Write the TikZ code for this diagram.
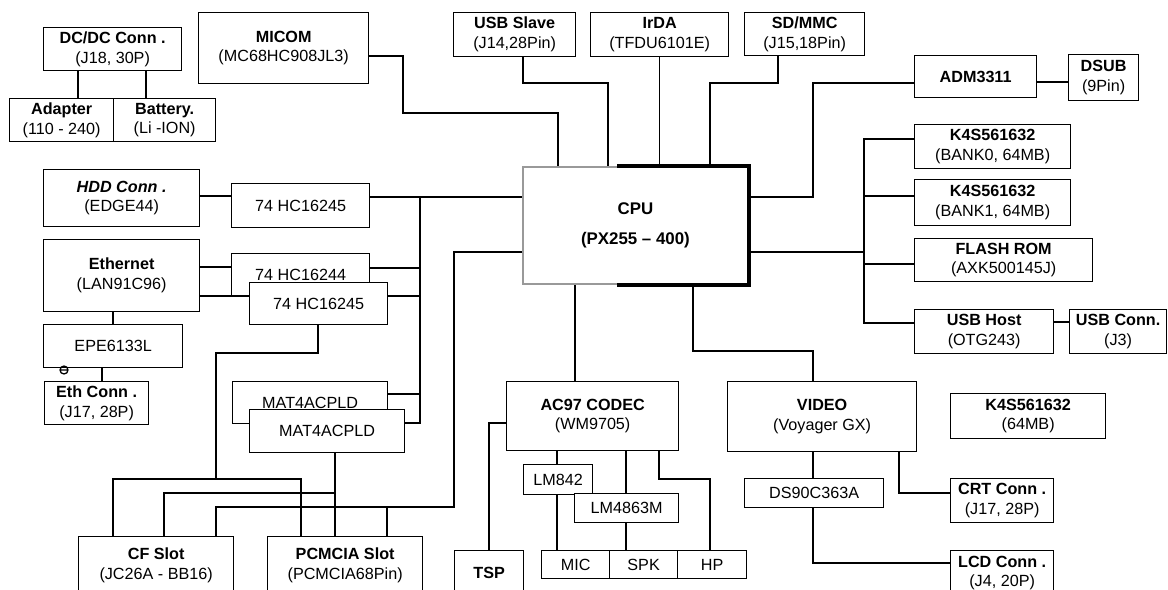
\documentclass[tikz,border=0pt]{standalone}
\usepackage{fontspec}
\setmainfont{Liberation Sans}
\tikzset{
  blk/.style 2 args={rectangle,draw,fill=white,anchor=north west,inner sep=1pt,
    minimum width=#1*0.025cm,minimum height=#2*0.025cm,align=center,
    font=\fontsize{11.5}{14}\selectfont},
  wire/.style={line width=0.9pt,color=black}
}
\begin{document}
\begin{tikzpicture}[x=0.025cm,y=-0.025cm,line width=0.9pt]
  \useasboundingbox (0,0) rectangle (1168,590);
  \clip (0,0) rectangle (1168,590);

  % power
  \node[blk={138}{43}] (dcdc) at (43,27) {\textbf{DC/DC Conn .}\\(J18, 30P)};
  \node[blk={104}{43}] (adapter) at (9,98) {\textbf{Adapter}\\(110 - 240)};
  \node[blk={102}{43}] (battery) at (113,98) {\textbf{Battery.}\\(Li -ION)};
  \node[blk={170}{71}] (micom) at (198,12) {\textbf{MICOM}\\(MC68HC908JL3)};

  % top row
  \node[blk={122}{44}] (usbslave) at (453,12) {\textbf{USB Slave}\\(J14,28Pin)};
  \node[blk={138}{44}] (irda) at (590,12) {\textbf{IrDA}\\(TFDU6101E)};
  \node[blk={120}{43}] (sdmmc) at (744,12) {\textbf{SD/MMC}\\(J15,18Pin)};

  % right side
  \node[blk={122}{42}] (adm) at (914,55) {\textbf{ADM3311}};
  \node[blk={70}{46}] (dsub) at (1068,54) {\textbf{DSUB}\\(9Pin)};
  \node[blk={156}{44}] (bank0) at (914,124) {\textbf{K4S561632}\\(BANK0, 64MB)};
  \node[blk={156}{46}] (bank1) at (914,179) {\textbf{K4S561632}\\(BANK1, 64MB)};
  \node[blk={178}{43}] (flash) at (914,238) {\textbf{FLASH ROM}\\(AXK500145J)};
  \node[blk={139}{44}] (usbhost) at (914,309) {\textbf{USB Host}\\(OTG243)};
  \node[blk={97}{44}] (usbconn) at (1069,309) {\textbf{USB Conn.}\\(J3)};

  % cpu
  \node[blk={225}{117},draw=black!40,line width=1.3pt,
    font=\fontsize{12}{21}\selectfont\bfseries] (cpu) at (522,166) {CPU\\(PX255 -- 400)};
  \draw[line width=2.6pt] (cpu.north -| 617,0) -- (cpu.north east) -- (cpu.south east) -- (cpu.south -| 617,0);

  % left side
  \node[blk={156}{57}] (hdd) at (43,169) {\textbf{\textit{HDD Conn .}}\\(EDGE44)};
  \node[blk={138}{44}] (hcA) at (231,183) {74 HC16245};
  \node[blk={156}{72}] (eth) at (43,239) {\textbf{Ethernet}\\(LAN91C96)};
  \node[blk={138}{42}] (hcB) at (231,253) {74 HC16244};
  \node[blk={138}{42}] (hcC) at (249,282) {74 HC16245};
  \node[blk={139}{43}] (epe) at (43,324) {EPE6133L};
  \node[blk={104}{43}] (ethconn) at (44,381) {\textbf{Eth Conn .}\\(J17, 28P)};
  \node[blk={155}{42}] (cpldA) at (232,381) {MAT4ACPLD};
  \node[blk={155}{43}] (cpldB) at (249,409) {MAT4ACPLD};
  \node[blk={155}{57}] (cf) at (78,536) {\textbf{CF Slot}\\(JC26A - BB16)};
  \node[blk={155}{57}] (pcmcia) at (267,536) {\textbf{PCMCIA Slot}\\(PCMCIA68Pin)};
  \draw (64,370) circle (4) (60,370) -- (68,370);

  % audio
  \node[blk={69}{45}] (tsp) at (454,550) {\textbf{TSP}};
  \node[blk={172}{69}] (codec) at (506,381) {\textbf{AC97 CODEC}\\(WM9705)};
  \node[blk={69}{30}] (lm842) at (523,464) {LM842};
  \node[blk={104}{29}] (lm4863) at (574,493) {LM4863M};
  \node[blk={68}{28}] (mic) at (541,550) {MIC};
  \node[blk={68}{28}] (spk) at (609,550) {SPK};
  \node[blk={69}{28}] (hp) at (677,550) {HP};

  % video
  \node[blk={189}{70}] (video) at (727,381) {\textbf{VIDEO}\\(Voyager GX)};
  \node[blk={155}{45}] (sdram) at (950,393) {\textbf{K4S561632}\\(64MB)};
  \node[blk={139}{29}] (lvds) at (744,478) {DS90C363A};
  \node[blk={103}{44}] (crt) at (950,478) {\textbf{CRT Conn .}\\(J17, 28P)};
  \node[blk={103}{45}] (lcd) at (950,550) {\textbf{LCD Conn .}\\(J4, 20P)};

  % wires
  \draw[wire] (dcdc.south -| 78,0) -- (adapter.north -| 78,0);
  \draw[wire] (dcdc.south -| 146,0) -- (battery.north -| 146,0);
  \draw[wire] (micom.east |- 0,56) -| (403,113) -| (cpu.north -| 558,0);
  \draw[wire] (usbslave.south -| 523,0) |- (608,83) -- (cpu.north -| 608,0);
  \draw[wire] (irda.south) -- (cpu.north -| irda.south);
  \draw[wire] (sdmmc.south -| 778,0) |- (710,83) -- (cpu.north -| 710,0);
  \draw[wire] (cpu.east |- 0,197) -| (813,83) -- (adm.west |- 0,83);
  \draw[wire] (adm.east |- 0,82) -- (dsub.west |- 0,82);
  \draw[wire] (cpu.east |- 0,252) -- (864,252);
  \draw[wire] (bank0.west |- 0,139) -| (864,323) -- (usbhost.west |- 0,323);
  \draw[wire] (864,196) -- (bank1.west |- 0,196);
  \draw[wire] (864,264) -- (flash.west |- 0,264);
  \draw[wire] (usbhost.east |- 0,322) -- (usbconn.west |- 0,322);

  \draw[wire] (hdd.east |- 0,196) -- (hcA.west |- 0,196);
  \draw[wire] (hcA.east |- 0,197) -- (cpu.west |- 0,197);
  \draw[wire] (cpldB.east |- 0,423) -| (420,197);
  \draw[wire] (hcB.east |- 0,268) -- (420,268);
  \draw[wire] (hcC.east |- 0,296) -- (420,296);
  \draw[wire] (cpldA.east |- 0,394) -- (420,394);
  \draw[wire] (eth.east |- 0,267) -- (hcB.west |- 0,267);
  \draw[wire] (eth.east |- 0,296) -- (hcC.west |- 0,296);
  \draw[wire] (eth.south -| 113,0) -- (epe.north -| 113,0);
  \draw[wire] (epe.south -| 102,0) -- (ethconn.north -| 102,0);

  \draw[wire] (hcC.south -| 318,0) |- (216,353) -- (216,479);
  \draw[wire] (cf.north -| 113,0) |- (216,479) -| (pcmcia.north -| 301,0);
  \draw[wire] (cpldB.south -| 335,0) -- (pcmcia.north -| 335,0);
  \draw[wire] (335,493) -| (cf.north -| 164,0);
  \draw[wire] (cpu.west |- 0,252) -| (454,507) -| (cf.north -| 216,0);
  \draw[wire] (387,507) -- (pcmcia.north -| 387,0);

  \draw[wire] (cpu.south -| 575,0) -- (codec.north -| 575,0);
  \draw[wire] (codec.west |- 0,423) -| (tsp.north -| 489,0);
  \draw[wire] (codec.south -| 557,0) -- (lm842.north -| 557,0);
  \draw[wire] (lm842.south -| 557,0) -- (mic.north -| 557,0);
  \draw[wire] (codec.south -| 626,0) -- (lm4863.north -| 626,0);
  \draw[wire] (lm4863.south -| 626,0) -- (spk.north -| 626,0);
  \draw[wire] (codec.south -| 659,0) |- (710,479) -- (hp.north -| 710,0);

  \draw[wire] (cpu.south -| 693,0) |- (813,351) -- (video.north -| 813,0);
  \draw[wire] (video.south -| 813,0) -- (lvds.north -| 813,0);
  \draw[wire] (video.south -| 899,0) |- (crt.west |- 0,493);
  \draw[wire] (lvds.south -| 813,0) |- (lcd.west |- 0,563);
\end{tikzpicture}
\end{document}
